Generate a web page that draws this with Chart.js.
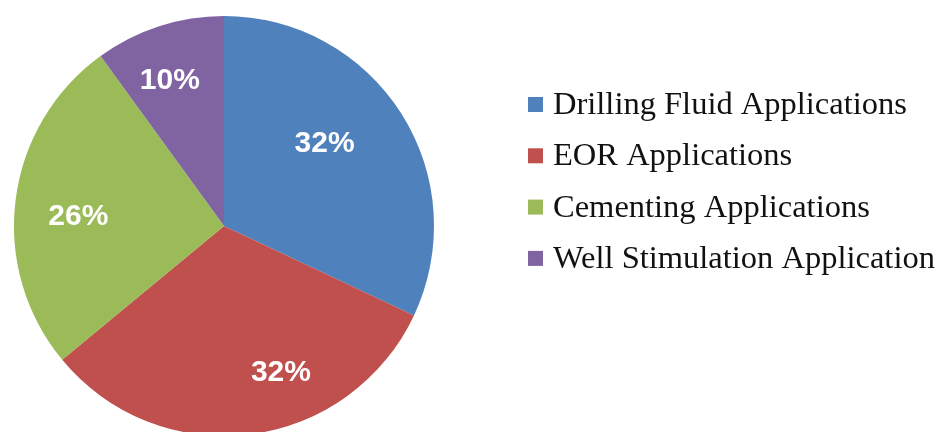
<!DOCTYPE html>
<html>
<head>
<meta charset="utf-8">
<title>Oilfield applications</title>
<script src="https://cdn.jsdelivr.net/npm/chart.js@4/dist/chart.umd.min.js"></script>
<style>
  html, body { margin: 0; padding: 0; background: #fff; overflow: hidden; }
  #wrap { position: absolute; left: 0; top: 0; width: 940px; height: 452px; }
</style>
</head>
<body>
<div id="wrap"><canvas id="grafico" width="940" height="452"></canvas></div>
<script>
const categorias = [
  'Drilling Fluid Applications',
  'EOR Applications',
  'Cementing Applications',
  'Well Stimulation Application'
];
const valores = [32, 32, 26, 10];
const cores = ['#4f81bd', '#c0504d', '#9bbb59', '#8064a2'];

// small shifts of each percentage label away from the slice middle
const labelOffsets = [[-20, -6], [39, 5], [-4, 9], [-10, -9]];

// white percentages inside the slices
const rotulos = {
  id: 'rotulos',
  afterDatasetsDraw(chart) {
    const ctx = chart.ctx;
    const meta = chart.getDatasetMeta(0);
    const total = valores.reduce((a, b) => a + b, 0);
    ctx.save();
    ctx.font = 'bold 30px "Liberation Sans", Arial, sans-serif';
    ctx.fillStyle = '#fff';
    ctx.textAlign = 'center';
    ctx.textBaseline = 'middle';
    meta.data.forEach((arc, i) => {
      const p = arc.getProps(['x', 'y', 'startAngle', 'endAngle', 'outerRadius'], true);
      const meio = (p.startAngle + p.endAngle) / 2;
      const r = p.outerRadius * 0.68;
      const x = p.x + Math.cos(meio) * r + labelOffsets[i][0];
      const y = p.y + Math.sin(meio) * r + labelOffsets[i][1];
      ctx.fillText(Math.round(valores[i] / total * 100) + '%', x, y);
    });
    ctx.restore();
  }
};

// legend on the right, square swatch + serif text
const legenda = {
  id: 'legenda',
  afterDraw(chart) {
    const ctx = chart.ctx;
    const ds = chart.data.datasets[0];
    ctx.save();
    ctx.font = '32.5px "Liberation Serif", "Times New Roman", serif';
    ctx.textAlign = 'left';
    ctx.textBaseline = 'alphabetic';
    chart.data.labels.forEach((txt, i) => {
      const base = 114 + i * 51.3;
      ctx.fillStyle = ds.backgroundColor[i];
      ctx.fillRect(528, base - 17, 15, 15);
      ctx.fillStyle = '#111';
      ctx.fillText(txt, 553, base);
    });
    ctx.restore();
  }
};

new Chart(document.getElementById('grafico'), {
  type: 'pie',
  data: {
    labels: categorias,
    datasets: [{
      data: valores,
      backgroundColor: cores,
      borderWidth: 0,
      hoverOffset: 0
    }]
  },
  options: {
    responsive: false,
    animation: false,
    events: [],
    layout: { padding: { left: 14, top: 16, right: 506, bottom: 16 } },
    plugins: {
      legend: { display: false },
      tooltip: { enabled: false }
    }
  },
  plugins: [rotulos, legenda]
});
</script>
</body>
</html>
